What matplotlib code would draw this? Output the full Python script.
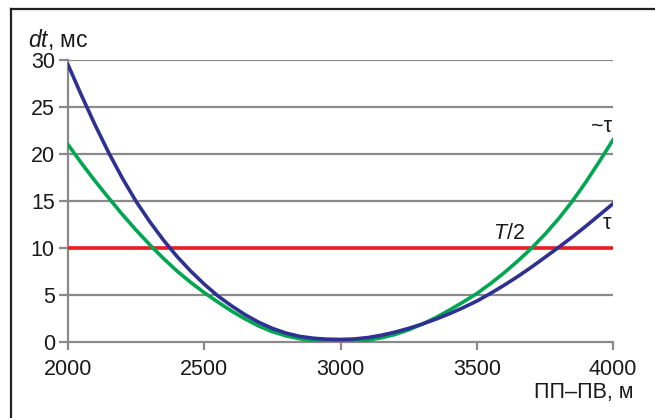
import matplotlib
matplotlib.use("Agg")
import matplotlib.pyplot as plt
from matplotlib.lines import Line2D

plt.rcParams['font.family'] = ['Liberation Sans', 'DejaVu Sans']
plt.rcParams['mathtext.fontset'] = 'custom'
plt.rcParams['mathtext.it'] = 'Liberation Sans:italic'
plt.rcParams['mathtext.rm'] = 'Liberation Sans'

# distance ПП-ПВ, m
dist = list(range(2000, 4001, 50))
# tau, ms
tau = [29.5, 26.2, 23.05, 20.1, 17.4, 14.95, 12.8, 10.85, 9.1, 7.55,
       6.15, 4.9, 3.85, 2.9, 2.1, 1.45, 0.95, 0.6, 0.4, 0.3,
       0.27, 0.32, 0.47, 0.72, 1.05, 1.45, 1.91, 2.43, 3.01, 3.65,
       4.35, 5.16, 6.03, 6.96, 7.95, 9.0, 10.06, 11.16, 12.31, 13.51, 14.71]
# approximate tau, ms
tau_approx = [21.0, 19.0, 17.1, 15.3, 13.55, 11.9, 10.35, 8.9, 7.55, 6.35,
              5.25, 4.25, 3.3, 2.45, 1.7, 1.1, 0.65, 0.35, 0.15, 0.05,
              0.0, 0.05, 0.2, 0.45, 0.8, 1.3, 1.9, 2.6, 3.4, 4.25,
              5.15, 6.2, 7.35, 8.6, 9.95, 11.45, 13.1, 14.95, 17.0, 19.2, 21.5]
half_period = 10

W, H = 655, 418
fs = 15.5
txt_c = '#1a1a1a'
fig = plt.figure(figsize=(W / 100, H / 100), dpi=100)
ax = fig.add_axes([68 / W, 1 - 342 / H, (613 - 68) / W, (342 - 60) / H])

grid_c = '#8a8a8a'
for v in range(5, 31, 5):
    ax.axhline(v, color=grid_c, lw=1.6, zorder=1)

ax.plot([dist[0], dist[-1]], [half_period, half_period], color='#ed1c24', lw=2.6, zorder=3)
ax.plot(dist, tau_approx, color='#00a651', lw=2.6, zorder=4)
ax.plot(dist, tau, color='#2e3192', lw=2.6, zorder=5)

ax.set_xlim(2000, 4000)
ax.set_ylim(0, 30)
ax.set_xticks([2000, 2500, 3000, 3500, 4000])
ax.set_yticks(range(0, 31, 5))

for s in ['top', 'right']:
    ax.spines[s].set_visible(False)
for s in ['left', 'bottom']:
    ax.spines[s].set_color(grid_c)
    ax.spines[s].set_linewidth(1.6)
ax.tick_params(axis='both', colors=grid_c, width=1.6, labelsize=fs, labelcolor=txt_c)
ax.tick_params(axis='y', length=6.5, pad=3)
ax.tick_params(axis='x', length=6, pad=6)

ax.text(3560, 10.4, '$\\mathit{T}$/2', fontsize=fs, color=txt_c, va='bottom', ha='left')
ax.text(3995, 11.5, '\u03c4', fontsize=fs, color=txt_c, va='bottom', ha='right')
ax.text(3995, 21.8, '~\u03c4', fontsize=fs, color=txt_c, va='bottom', ha='right')

fig.text(28 / W, 1 - 47 / H, '$\\mathit{dt}$, мс', fontsize=16.5, color=txt_c, va='baseline')
fig.text(633 / W, 1 - 398 / H, 'ПП–ПВ, м', fontsize=fs, color=txt_c, va='baseline', ha='right')

# frame
fig.add_artist(Line2D([11 / W, 1], [1 - 9 / H, 1 - 9 / H], color='#222222', lw=1.6))
fig.add_artist(Line2D([11 / W, 11 / W], [0, 1 - 9 / H], color='#222222', lw=1.6))

fig.savefig('out.png', dpi=100)
